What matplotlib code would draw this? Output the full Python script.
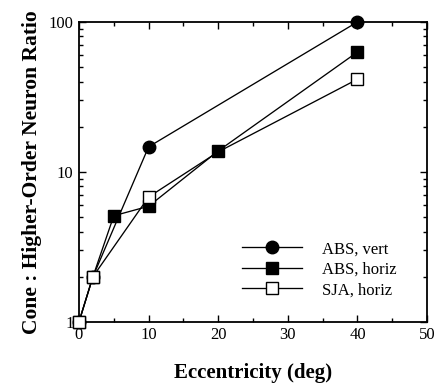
import matplotlib
matplotlib.use("Agg")
import matplotlib.pyplot as plt
from matplotlib.ticker import MultipleLocator, FixedLocator, LogLocator, NullFormatter

plt.rcParams['font.family'] = ['Liberation Serif', 'DejaVu Serif']

# Cone : higher-order neuron ratio vs. eccentricity
abs_vert_x = [0, 2, 10, 40]
abs_vert_y = [1.0, 2.0, 14.7, 100.0]

abs_horiz_x = [0, 2, 5, 10, 20, 40]
abs_horiz_y = [1.0, 2.0, 5.1, 5.9, 13.8, 63.0]

sja_horiz_x = [0, 2, 10, 20, 40]
sja_horiz_y = [1.0, 2.0, 6.8, 13.6, 41.5]

x_ticks = [0, 10, 20, 30, 40, 50]
y_ticks = [1, 10, 100]
y_tick_labels = ["1", "10", "100"]

fig = plt.figure(figsize=(4.34, 3.85), dpi=100)
ax = fig.add_axes([0.182, 0.164, 0.802, 0.779])

lw = 0.95
ms = 9.0
ax.plot(abs_vert_x, abs_vert_y, '-o', color='black', lw=lw, ms=ms,
        mfc='black', mec='black', label='ABS, vert', clip_on=False, zorder=3)
ax.plot(abs_horiz_x, abs_horiz_y, '-s', color='black', lw=lw, ms=ms - 0.6,
        mfc='black', mec='black', label='ABS, horiz', clip_on=False, zorder=3)
# the open square at 20 deg sits beneath the filled one
ax.plot(sja_horiz_x, sja_horiz_y, '-s', color='black', lw=lw, ms=ms - 0.6,
        mfc='white', mec='black', mew=1.0, label='SJA, horiz', clip_on=False, zorder=4,
        markevery=[0, 1, 2, 4])

ax.set_yscale('log')
ax.set_xlim(0, 50)
ax.set_ylim(1, 100)

ax.xaxis.set_major_locator(FixedLocator(x_ticks))
ax.xaxis.set_minor_locator(MultipleLocator(5))
ax.yaxis.set_major_locator(FixedLocator(y_ticks))
ax.set_yticklabels(y_tick_labels)
ax.yaxis.set_minor_locator(LogLocator(base=10, subs=range(2, 10)))
ax.yaxis.set_minor_formatter(NullFormatter())

ax.tick_params(which='both', direction='in', top=True, right=True, labelsize=12, width=1.0)
ax.tick_params(which='major', length=5, pad=4)
ax.tick_params(which='minor', length=3)
for s in ax.spines.values():
    s.set_linewidth(1.3)

ax.set_xlabel('Eccentricity (deg)', fontsize=15, fontweight='bold', labelpad=14)
ax.set_ylabel('Cone : Higher-Order Neuron Ratio', fontsize=15.5, fontweight='bold', labelpad=5)

leg = ax.legend(loc='lower right', bbox_to_anchor=(0.945, 0.04), frameon=False,
                fontsize=12, handlelength=3.6, handletextpad=1.2, labelspacing=0.27,
                borderpad=0.2)

fig.savefig('out.png', dpi=100)
